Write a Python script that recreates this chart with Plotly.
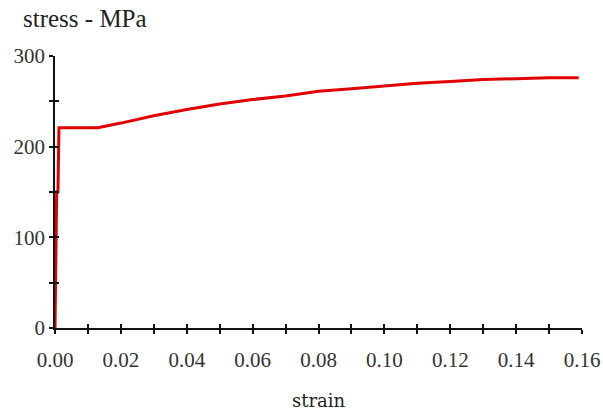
import plotly.graph_objects as go

strain = [0, 0.0003, 0.0005, 0.0009, 0.0012, 0.013, 0.02, 0.03, 0.04, 0.05, 0.06,
          0.07, 0.08, 0.09, 0.10, 0.11, 0.12, 0.13, 0.14, 0.15, 0.159]
stress = [0, 75, 150, 150, 221, 221, 226, 234, 241, 247, 252,
          256, 261, 264, 267, 270, 272, 274, 275, 276, 276]

x_tickvals = [0.00, 0.01, 0.02, 0.03, 0.04, 0.05, 0.06, 0.07, 0.08,
              0.09, 0.10, 0.11, 0.12, 0.13, 0.14, 0.15, 0.16]
x_ticktext = ["0.00", "", "0.02", "", "0.04", "", "0.06", "", "0.08",
              "", "0.10", "", "0.12", "", "0.14", "", "0.16"]
y_tickvals = [0, 50, 100, 150, 200, 250, 300]
y_ticktext = ["0", "", "100", "", "200", "", "300"]

FONT = "Liberation Serif, Times New Roman, serif"
SLAB = "DejaVu Serif, serif"

fig = go.Figure()
fig.add_trace(go.Scatter(x=strain, y=stress, mode="lines",
                         line=dict(color="#e00000", width=3),
                         showlegend=False, hoverinfo="x+y"))
# overlay axes (for ticks crossing the axis line)
fig.add_trace(go.Scatter(x=[], y=[], xaxis="x2", yaxis="y2",
                         showlegend=False, hoverinfo="skip"))

axis_common = dict(showgrid=False, zeroline=False, showline=True,
                   linecolor="#111111", linewidth=1.5,
                   tickcolor="#111111", tickwidth=1.5, ticklen=4,
                   tickfont=dict(family=FONT, size=21, color="#333333"))

fig.update_layout(
    width=603, height=414,
    font=dict(family=FONT, color="#222222"),
    margin=dict(l=55, r=21, t=56, b=86, autoexpand=False),
    paper_bgcolor="white", plot_bgcolor="white",
    xaxis=dict(range=[0, 0.16], tickmode="array", tickvals=x_tickvals,
               ticktext=x_ticktext, ticks="outside", ticklabelstandoff=8,
               automargin=False, **axis_common,
               title=dict(text="strain", font=dict(family=SLAB, size=18, color="#222222"),
                          standoff=23)),
    yaxis=dict(range=[0, 300], tickmode="array", tickvals=y_tickvals,
               ticktext=y_ticktext, ticks="outside", automargin=False,
               **axis_common),
    xaxis2=dict(range=[0, 0.16], overlaying="x", anchor="y2", side="bottom",
                tickmode="array", tickvals=x_tickvals, ticks="inside",
                showticklabels=False, showgrid=False, zeroline=False,
                showline=False, tickcolor="#111111", tickwidth=1.5, ticklen=4),
    yaxis2=dict(range=[0, 300], overlaying="y", anchor="x2", side="left",
                tickmode="array", tickvals=y_tickvals, ticks="inside",
                showticklabels=False, showgrid=False, zeroline=False,
                showline=False, tickcolor="#111111", tickwidth=1.5, ticklen=4),
    annotations=[dict(text="stress - MPa", xref="paper", yref="paper",
                      x=-0.064, y=1.0, yshift=53, xanchor="left", yanchor="top",
                      showarrow=False,
                      font=dict(family=FONT, size=25, color="#222222"))],
)

fig.write_html("out.html", config={"displayModeBar": False},
               post_script="document.body.style.margin='0';document.body.style.overflow='hidden';")
